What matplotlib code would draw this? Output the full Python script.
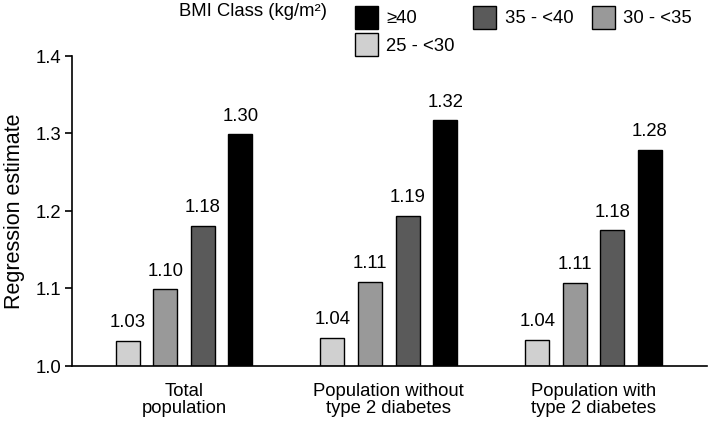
import matplotlib.pyplot as plt
from matplotlib.patches import Patch
import numpy as np

plt.rcParams['font.family'] = ['Liberation Sans', 'DejaVu Sans']

groups = ["Total\npopulation", "Population without\ntype 2 diabetes", "Population with\ntype 2 diabetes"]
classes = ["25 - <30", "30 - <35", "35 - <40", "≥40"]
colors = ["#d0d0d0", "#999999", "#5a5a5a", "#000000"]

# bar heights and printed labels
bmi_25_30 = [1.032, 1.036, 1.034]
bmi_30_35 = [1.099, 1.109, 1.107]
bmi_35_40 = [1.181, 1.194, 1.175]
bmi_40 = [1.299, 1.317, 1.279]
lbl_25_30 = ["1.03", "1.04", "1.04"]
lbl_30_35 = ["1.10", "1.11", "1.11"]
lbl_35_40 = ["1.18", "1.19", "1.18"]
lbl_40 = ["1.30", "1.32", "1.28"]

series = [bmi_25_30, bmi_30_35, bmi_35_40, bmi_40]
labels = [lbl_25_30, lbl_30_35, lbl_35_40, lbl_40]

FS = 13.3

fig = plt.figure(figsize=(7.09, 4.23), dpi=100)
ax = fig.add_axes([72 / 709, 57 / 423, 635 / 709, 310 / 423])

x = np.arange(len(groups))
offsets = [-0.275, -0.092, 0.092, 0.275]
width = 0.117
for vals, lbls, off, col, name in zip(series, labels, offsets, colors, classes):
    ax.bar(x + off, np.array(vals) - 1.0, width, bottom=1.0, color=col,
           edgecolor="black", linewidth=1.0, label=name)
    for xi, v, t in zip(x + off, vals, lbls):
        ax.annotate(t, (xi, v), xytext=(0, 7), textcoords="offset points",
                    ha="center", va="bottom", fontsize=FS)

ax.set_xlim(-0.547, 2.554)
ax.set_ylim(1.0, 1.4)
ax.set_yticks([1.0, 1.1, 1.2, 1.3, 1.4])
ax.set_yticklabels(["1.0", "1.1", "1.2", "1.3", "1.4"])
ax.set_xticks(x)
ax.set_xticklabels(groups, linespacing=1.0)
ax.tick_params(axis="x", length=0, pad=12, labelsize=FS)
ax.tick_params(axis="y", direction="out", length=5, width=1.2, labelsize=FS, pad=3)
ax.spines["top"].set_visible(False)
ax.spines["right"].set_visible(False)
ax.spines["left"].set_linewidth(1.2)
ax.spines["bottom"].set_linewidth(1.2)
ax.set_ylabel("Regression estimate", fontsize=15.5)
ax.yaxis.set_label_coords(-0.074, 0.5)

# legend: column order so that ≥40 / 25 - <30 share first column
handles = [Patch(facecolor=c, edgecolor="black", linewidth=1.0) for c in colors]
order = [3, 0, 2, 1]
fig.legend([handles[i] for i in order], [classes[i] for i in order], ncol=3,
           loc="upper left", bbox_to_anchor=(355 / 709, 1 - 6 / 423),
           bbox_transform=fig.transFigure, frameon=False, fontsize=FS,
           handlelength=1.25, handleheight=1.5, handletextpad=0.45,
           columnspacing=1.0, labelspacing=0.25, borderpad=0, borderaxespad=0)
fig.text(253 / 709, 1 - 3 / 423, "BMI Class (kg/m²)", ha="center", va="top",
         fontsize=FS)

fig.savefig("out.png", dpi=100)
